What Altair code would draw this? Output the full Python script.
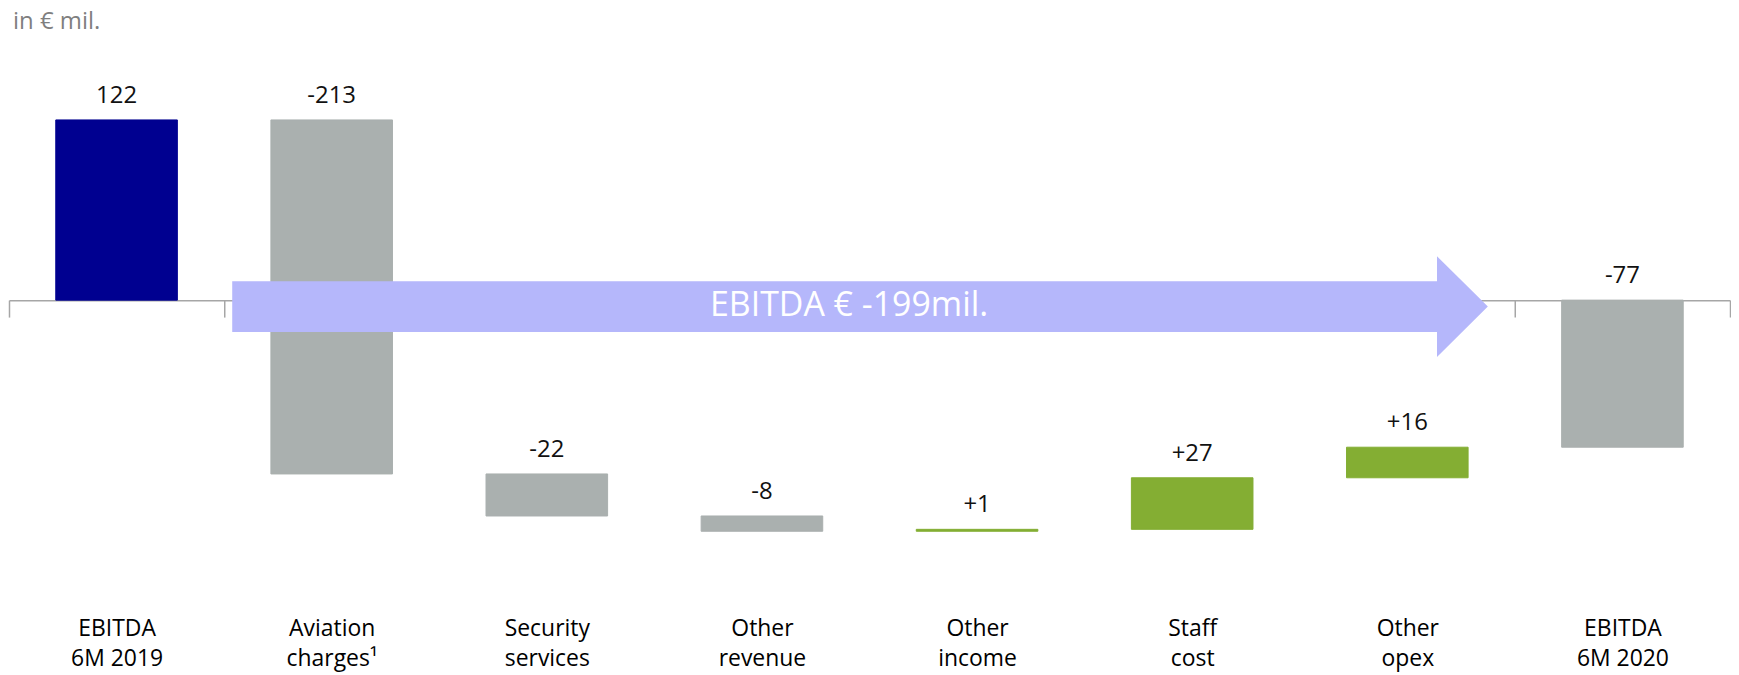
import altair as alt
import pandas as pd

# ---- data ----
categories = ["EBITDA|6M 2019", "Aviation|charges¹", "Security|services", "Other|revenue",
              "Other|income", "Staff|cost", "Other|opex", "EBITDA|6M 2020"]
start_total = 122
deltas = [-213, -22, -8, 1, 27, 16]
end_total = -77
bar_kind = ["start", "decrease", "decrease", "decrease", "increase", "increase", "increase", "end"]
arrow_text = "EBITDA € -199mil."
unit_text = "in € mil."

rows = [dict(cat=categories[0], lo=0, hi=start_total, label=str(start_total), kind=bar_kind[0])]
run = start_total
for c, d, k in zip(categories[1:-1], deltas, bar_kind[1:-1]):
    new = run + d
    rows.append(dict(cat=c, lo=run, hi=new, label=f"{d:+d}", kind=k))
    run = new
rows.append(dict(cat=categories[-1], lo=0, hi=end_total, label=str(end_total), kind=bar_kind[-1]))
df = pd.DataFrame(rows)
df["top"] = df[["lo", "hi"]].max(axis=1)

W, H = 1727, 660
BASE = 292  # pixel row of the zero line inside the plot

FONT = "Open Sans"

x_enc = alt.X(
    "cat:N", sort=categories,
    scale=alt.Scale(paddingInner=0, paddingOuter=0),
    axis=alt.Axis(
        title=None, labelExpr="split(datum.label, '|')", labelAngle=0,
        labelFontSize=23, labelLineHeight=30, labelPadding=302, labelColor="#000000",
        labelFont=FONT, tickBand="extent", tickSize=17, tickColor="#a6a6a6", tickWidth=1.5,
        domainColor="#a6a6a6", domainWidth=1.5, offset=-(H - BASE),
    ),
)
y_scale = alt.Scale(domain=[-192, 0, 197], range=[H, BASE, 0], nice=False, zero=False)
kind_scale = alt.Scale(domain=["start", "decrease", "increase", "end"],
                       range=["#000090", "#aab0af", "#84ae33", "#aab0af"])

bars = alt.Chart(df).mark_bar(width=122, strokeWidth=1).encode(
    x=x_enc,
    y=alt.Y("lo:Q", scale=y_scale, axis=None),
    y2="hi:Q",
    color=alt.Color("kind:N", scale=kind_scale, legend=None),
    stroke=alt.Stroke("kind:N", scale=kind_scale, legend=None),
)

labels = alt.Chart(df).mark_text(fontSize=24, font=FONT, color="#111111",
                                 baseline="alphabetic", dy=-17).encode(
    x=alt.X("cat:N", sort=categories),
    y=alt.Y("top:Q", axis=None),
    text="label:N",
)

L = 1260.0
bh = 25.5 / (L / 2)
hh = 50.5 / (L / 2)
hb = 1 - 2 * 51 / L
arrow_path = (f"M -1 {-bh:.4f} L {hb:.4f} {-bh:.4f} L {hb:.4f} {-hh:.4f} L 1 0 "
              f"L {hb:.4f} {hh:.4f} L {hb:.4f} {bh:.4f} L -1 {bh:.4f} Z")

arrow_df = pd.DataFrame({"t": [arrow_text]})
arrow = alt.Chart(arrow_df).mark_point(
    shape=arrow_path, size=L * L, filled=True, opacity=1, color="#b5b7fb", strokeWidth=0
).encode(x=alt.value(854), y=alt.value(298.5))

arrow_label = alt.Chart(arrow_df).mark_text(
    color="white", fontSize=34, font=FONT, align="center", baseline="middle"
).encode(x=alt.value(843), y=alt.value(298), text="t:N")

unit = alt.Chart(pd.DataFrame({"u": [unit_text]})).mark_text(
    align="left", baseline="top", fontSize=24, font=FONT, color="#7f7f7f"
).encode(x=alt.value(4), y=alt.value(1), text="u:N")

chart = alt.layer(bars, arrow, arrow_label, labels, unit).properties(
    width=W, height=H, padding=0
).configure_view(stroke=None)

chart.save("out.html", embed_options={"renderer": "svg", "actions": False})
